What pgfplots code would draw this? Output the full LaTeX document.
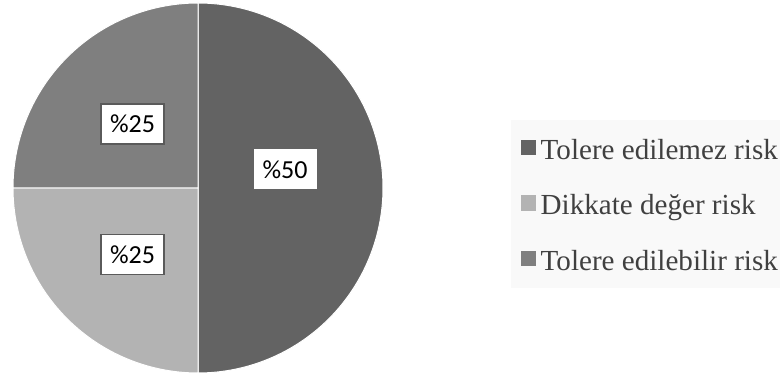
\documentclass[border=0pt]{standalone}
\usepackage{fontspec}
\setmainfont{Liberation Serif}
\newfontfamily\carlito{Carlito}
\usepackage{pgfplots}
\usepackage{pgfplotstable}
\pgfplotsset{compat=1.18}
\definecolor{cA}{HTML}{636363}
\definecolor{cB}{HTML}{B3B3B3}
\definecolor{cC}{HTML}{7F7F7F}
\definecolor{legbg}{HTML}{F9F9F9}
\definecolor{legtxt}{HTML}{404040}
\definecolor{boxline}{HTML}{5A5A5A}
\pgfplotstableread{
value
50
25
25
}\piedata
\pgfplotstablegetelem{0}{value}\of\piedata\let\vA\pgfplotsretval
\pgfplotstablegetelem{1}{value}\of\piedata\let\vB\pgfplotsretval
\pgfplotstablegetelem{2}{value}\of\piedata\let\vC\pgfplotsretval
\pgfmathsetmacro\aA{90}
\pgfmathsetmacro\aB{\aA-3.6*\vA}
\pgfmathsetmacro\aC{\aB-3.6*\vB}
\pgfmathsetmacro\aD{\aC-3.6*\vC}
\def\R{185}
\begin{document}%
\begin{tikzpicture}
\begin{axis}[
  name=ax,
  scale only axis, width=784bp, height=374bp,
  xmin=-198, xmax=586, ymin=-186, ymax=188,
  hide axis, ticks=none, clip=false,
  legend cell align=left,
  legend image code/.code={\path (0bp,0bp); \fill[#1,draw=none] (7bp,-6.5bp) rectangle (22bp,9bp);},
  legend style={
    at={(axis description cs:0.6518,0.6791)}, anchor=north west,
    fill=legbg, draw=none, inner xsep=2bp, inner ysep=11.5bp,
    text=legtxt,
    font=\fontsize{29.1bp}{34bp}\selectfont,
    row sep=21.5bp, column sep=5bp,
    nodes={inner sep=0pt, text height=27.5bp, text depth=6.5bp},
  },
]
\path (rel axis cs:0,0) rectangle (rel axis cs:1,1);
\addplot[fill=cA, draw=white, line width=1bp, domain=\aB:\aA, samples=121]
  ({\R*cos(x)},{\R*sin(x)}) -- (axis cs:0,0) -- cycle;
\addlegendentry{Tolere edilemez risk}
\addplot[fill=cB, draw=white, line width=1bp, domain=\aC:\aB, samples=61]
  ({\R*cos(x)},{\R*sin(x)}) -- (axis cs:0,0) -- cycle;
\addlegendentry{Dikkate değer risk}
\addplot[fill=cC, draw=white, line width=1bp, domain=\aD:\aC, samples=61]
  ({\R*cos(x)},{\R*sin(x)}) -- (axis cs:0,0) -- cycle;
\addlegendentry{Tolere edilebilir risk}
\node[fill=white, draw=none, minimum width=63bp, minimum height=40bp, inner sep=0pt,
  font=\carlito\fontsize{26bp}{30bp}\selectfont] at (axis cs:87,18.5) {\%50};
\node[fill=white, draw=boxline, line width=1.2bp, minimum width=63bp, minimum height=40bp, inner sep=0pt,
  font=\carlito\fontsize{26bp}{30bp}\selectfont] at (axis cs:-65.5,64) {\%25};
\node[fill=white, draw=boxline, line width=1.2bp, minimum width=63bp, minimum height=40bp, inner sep=0pt,
  font=\carlito\fontsize{26bp}{30bp}\selectfont] at (axis cs:-65.5,-66.5) {\%25};
\end{axis}
\pgfresetboundingbox
\path (ax.south west) rectangle (ax.north east);
\end{tikzpicture}%
\end{document}
